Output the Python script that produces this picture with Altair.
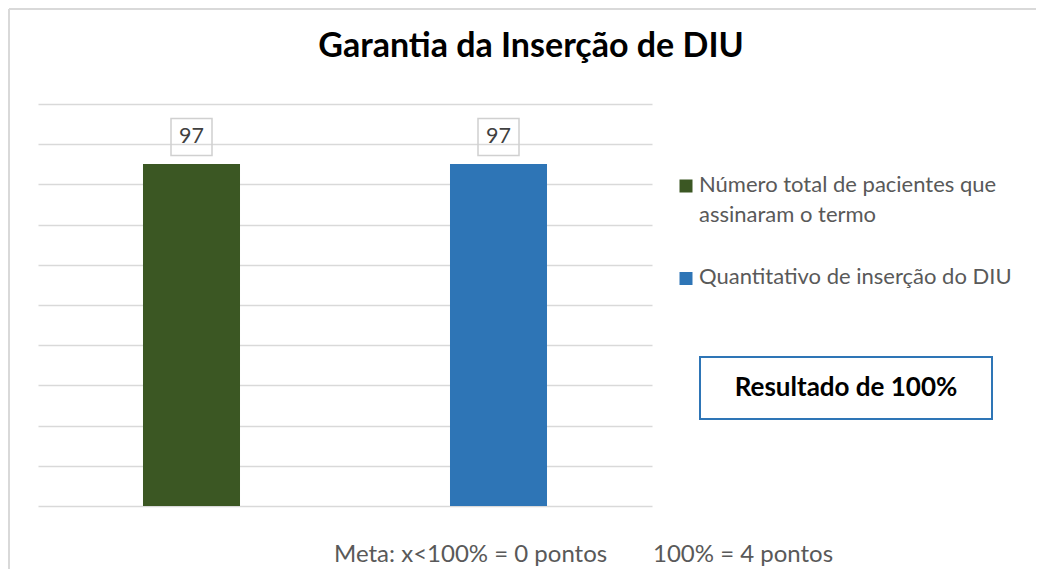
import altair as alt
import pandas as pd

# ---- data ----
categories = ["Número total de pacientes que assinaram o termo", "Quantitativo de inserção do DIU"]
values = [97, 97]
colors = ["#3b5723", "#2e75b6"]
tick_values = [0, 11.4, 22.8, 34.2, 45.6, 57.0, 68.4, 79.8, 91.2, 102.6, 114.0]
y_max = 114
title_text = "Garantia da Inserção de DIU"
legend_lines = [["Número total de pacientes que", "assinaram o termo"], ["Quantitativo de inserção do DIU"]]
result_text = "Resultado de 100%"
footer_left = "Meta: x<100% = 0 pontos"
footer_right = "100% = 4 pontos"

FONT = "Lato"
GRAY = "#595959"

df = pd.DataFrame({"cat": categories, "value": values, "label": [str(v) for v in values]})

x_enc = alt.X("cat:N", sort=categories,
              scale=alt.Scale(paddingInner=0.684, paddingOuter=0.342), axis=None)
y_enc = alt.Y("value:Q", scale=alt.Scale(domain=[0, y_max], nice=False),
              axis=alt.Axis(values=tick_values, grid=True, gridColor="#d9d9d9", gridWidth=1.5,
                            labels=False, ticks=False, domain=False, title=None))

base = alt.Chart(df)

bars = base.mark_bar().encode(
    x=x_enc, y=y_enc,
    color=alt.Color("cat:N", sort=categories, scale=alt.Scale(domain=categories, range=colors), legend=None),
)

label_box = base.mark_point(
    shape="M-1,-0.902L1,-0.902L1,0.902L-1,0.902Z", size=1681, filled=False,
    stroke="#d0d0d0", strokeWidth=1.5, yOffset=-27, opacity=1
).encode(x=x_enc, y=y_enc)

labels = base.mark_text(font=FONT, fontSize=21.5, color="#404040", yOffset=-27, baseline="middle").encode(
    x=x_enc, y=y_enc, text="label:N")

one = pd.DataFrame({"k": [0]})

def txt(text, x, y, size, color=GRAY, weight="normal", align="left", lh=None):
    kw = dict(font=FONT, fontSize=size, color=color, fontWeight=weight, align=align, baseline="alphabetic")
    if lh:
        kw["lineHeight"] = lh
    return alt.Chart(one).mark_text(text=text, **kw).encode(x=alt.value(x), y=alt.value(y))

title = txt(title_text, 493, -47, 34, color="#000000", weight="bold", align="center")

leg_sq1 = alt.Chart(one).mark_square(size=169, color=colors[0], opacity=1).encode(x=alt.value(648), y=alt.value(82))
leg_sq2 = alt.Chart(one).mark_square(size=169, color=colors[1], opacity=1).encode(x=alt.value(648), y=alt.value(174.5))
leg_t1 = txt(legend_lines[0], 661, 88, 22, lh=30)
leg_t2 = txt(legend_lines[1], 661, 180, 22)

res_box = alt.Chart(one).mark_rect(fill="white", stroke="#2e75b6", strokeWidth=2).encode(
    x=alt.value(662), x2=alt.value(954), y=alt.value(253), y2=alt.value(315))
res_txt = txt(result_text, 808, 292, 26, color="#000000", weight="bold", align="center")

foot1 = txt(footer_left, 296, 458, 24)
foot2 = txt(footer_right, 615, 458, 24)

border_left = alt.Chart(one).mark_rule(color="#d9d9d9", strokeWidth=2).encode(
    x=alt.value(-29), y=alt.value(-95), y2=alt.value(470))
border_top = alt.Chart(one).mark_rule(color="#d9d9d9", strokeWidth=2).encode(
    x=alt.value(-29), x2=alt.value(1000), y=alt.value(-95))

chart = alt.layer(
    border_left, border_top, bars, label_box, labels, title,
    leg_sq1, leg_sq2, leg_t1, leg_t2, res_box, res_txt, foot1, foot2
).properties(
    width=614, height=402,
    padding={"left": 30, "top": 96, "right": 384, "bottom": 63},
    autosize=alt.AutoSizeParams(type="none"),
    background="white",
).configure_view(stroke=None)

chart.save("out.html", embed_options={"renderer": "svg", "actions": False})
